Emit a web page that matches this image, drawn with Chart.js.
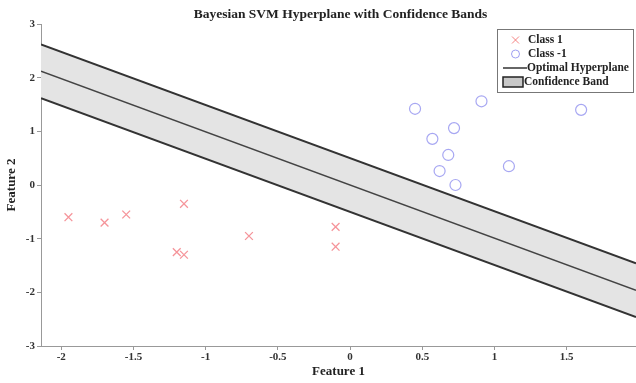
<!DOCTYPE html>
<html>
<head>
<meta charset="utf-8">
<script src="https://cdn.jsdelivr.net/npm/chart.js@4/dist/chart.umd.min.js"></script>
<style>
  html, body { margin: 0; padding: 0; background: #fff; }
  #wrap { width: 636px; height: 383px; }
</style>
</head>
<body>
<div id="wrap"><canvas id="svmChart" width="636" height="383"></canvas></div>
<script>
// Sample points
const class1X = [-1.95, -1.70, -1.55, -1.15, -1.20, -1.15, -0.70, -0.10, -0.10];
const class1Y = [-0.60, -0.70, -0.55, -0.35, -1.25, -1.30, -0.95, -0.78, -1.15];
const classNegX = [0.45, 0.91, 1.60, 0.72, 0.57, 0.68, 1.10, 0.62, 0.73];
const classNegY = [1.42, 1.56, 1.40, 1.06, 0.86, 0.56, 0.35, 0.26, 0.00];

// Hyperplane y = slope * x + intercept, band of +/- margin
const slope = -0.99;
const intercept = 0.0;
const margin = 0.5;

const xRange = [-2.14, 1.98];
const yRange = [-3, 3];
const xTicks = [-2, -1.5, -1, -0.5, 0, 0.5, 1, 1.5];
const yTicks = [-3, -2, -1, 0, 1, 2, 3];

const FONT = "'Liberation Serif', 'Times New Roman', serif";

const toPoints = (xs, ys) => xs.map((x, i) => ({ x, y: ys[i] }));
const lineAt = off => xRange.map(x => ({ x, y: slope * x + intercept + off }));

// Title centred over the plot area
const titlePlugin = {
    id: "plotTitle",
    afterDraw(chart) {
        const { ctx, chartArea } = chart;
        ctx.save();
        ctx.font = "bold 13.5px " + FONT;
        ctx.fillStyle = "#222";
        ctx.textAlign = "center";
        ctx.textBaseline = "middle";
        ctx.fillText("Bayesian SVM Hyperplane with Confidence Bands", (chartArea.left + chartArea.right) / 2 + 2, 15);
        ctx.restore();
    }
};

// Boxed legend in the upper right corner
const legendBox = {
    id: "legendBox",
    afterDraw(chart) {
        const ctx = chart.ctx;
        const x0 = 497, y0 = 29, w = 137, h = 64;
        ctx.save();
        ctx.fillStyle = "#fff";
        ctx.fillRect(x0, y0, w, h);
        ctx.strokeStyle = "#777";
        ctx.lineWidth = 1;
        ctx.strokeRect(x0 + 0.5, y0 + 0.5, w - 1, h - 1);

        ctx.font = "bold 11.5px " + FONT;
        ctx.fillStyle = "#222";
        ctx.textBaseline = "middle";
        const rows = [y0 + 11, y0 + 25, y0 + 39, y0 + 53];

        // Class 1
        ctx.strokeStyle = "rgba(240,90,90,0.75)";
        ctx.lineWidth = 1;
        ctx.beginPath();
        ctx.moveTo(x0 + 15, rows[0] - 3.5); ctx.lineTo(x0 + 22, rows[0] + 3.5);
        ctx.moveTo(x0 + 22, rows[0] - 3.5); ctx.lineTo(x0 + 15, rows[0] + 3.5);
        ctx.stroke();
        ctx.fillText("Class 1", x0 + 31, rows[0]);

        // Class -1
        ctx.strokeStyle = "rgba(120,120,235,0.7)";
        ctx.beginPath();
        ctx.arc(x0 + 18.5, rows[1], 4, 0, Math.PI * 2);
        ctx.stroke();
        ctx.fillText("Class -1", x0 + 31, rows[1]);

        // Optimal hyperplane
        ctx.strokeStyle = "#333";
        ctx.lineWidth = 1.5;
        ctx.beginPath();
        ctx.moveTo(x0 + 6, rows[2]); ctx.lineTo(x0 + 30, rows[2]);
        ctx.stroke();
        ctx.fillText("Optimal Hyperplane", x0 + 30, rows[2]);

        // Confidence band
        ctx.fillStyle = "#c8c8c8";
        ctx.fillRect(x0 + 6, rows[3] - 5, 20, 10);
        ctx.strokeStyle = "#222";
        ctx.lineWidth = 1.5;
        ctx.strokeRect(x0 + 6, rows[3] - 5, 20, 10);
        ctx.fillStyle = "#222";
        ctx.fillText("Confidence Band", x0 + 27, rows[3]);
        ctx.restore();
    }
};

const bandColor = "#333";

new Chart(document.getElementById("svmChart"), {
    type: "scatter",
    data: {
        datasets: [
            {
                label: "Lower",
                type: "line",
                data: lineAt(-margin),
                borderColor: bandColor,
                borderWidth: 2,
                pointRadius: 0,
                fill: false,
                order: 3
            },
            {
                label: "Confidence Band",
                type: "line",
                data: lineAt(margin),
                borderColor: bandColor,
                borderWidth: 2,
                backgroundColor: "#e4e4e4",
                pointRadius: 0,
                fill: "-1",
                order: 3
            },
            {
                label: "Optimal Hyperplane",
                type: "line",
                data: lineAt(0),
                borderColor: "#444",
                borderWidth: 1.5,
                pointRadius: 0,
                fill: false,
                order: 2
            },
            {
                label: "Class 1",
                data: toPoints(class1X, class1Y),
                pointStyle: "crossRot",
                pointRadius: 5.5,
                borderColor: "rgba(240,90,100,0.65)",
                borderWidth: 1.3,
                order: 1
            },
            {
                label: "Class -1",
                data: toPoints(classNegX, classNegY),
                pointStyle: "circle",
                pointRadius: 5.5,
                backgroundColor: "rgba(0,0,0,0)",
                borderColor: "rgba(120,120,235,0.65)",
                borderWidth: 1.2,
                order: 1
            }
        ]
    },
    options: {
        responsive: false,
        animation: false,
        layout: { autoPadding: false, padding: { top: 24, right: 0, left: 0, bottom: 0 } },
        plugins: {
            legend: { display: false },
            title: { display: false },
            tooltip: { enabled: false }
        },
        scales: {
            x: {
                type: "linear",
                min: xRange[0],
                max: xRange[1],
                afterBuildTicks: s => { s.ticks = xTicks.map(v => ({ value: v })); },
                afterFit: s => { s.height = 37; s.paddingLeft = 0; s.paddingRight = 0; },
                border: { color: "#999", width: 1 },
                grid: { drawOnChartArea: false, tickLength: 4, color: "#999" },
                ticks: {
                    color: "#333",
                    font: { family: FONT, size: 11, weight: "bold" },
                    padding: 1,
                    maxRotation: 0,
                    callback: v => String(v)
                },
                title: {
                    display: true,
                    text: "Feature 1",
                    color: "#222",
                    font: { family: FONT, size: 13, weight: "bold" },
                    padding: { top: 0, bottom: 4 }
                }
            },
            y: {
                type: "linear",
                min: yRange[0],
                max: yRange[1],
                afterBuildTicks: s => { s.ticks = yTicks.map(v => ({ value: v })); },
                afterFit: s => { s.width = 41; s.paddingTop = 0; s.paddingBottom = 0; },
                border: { color: "#999", width: 1 },
                grid: { drawOnChartArea: false, tickLength: 4, color: "#999" },
                ticks: {
                    color: "#333",
                    font: { family: FONT, size: 11, weight: "bold" },
                    padding: 2,
                    callback: v => String(v)
                },
                title: {
                    display: true,
                    text: "Feature 2",
                    color: "#222",
                    font: { family: FONT, size: 13, weight: "bold" },
                    padding: { top: 4, bottom: 4 }
                }
            }
        }
    },
    plugins: [titlePlugin, legendBox]
});
</script>
</body>
</html>
